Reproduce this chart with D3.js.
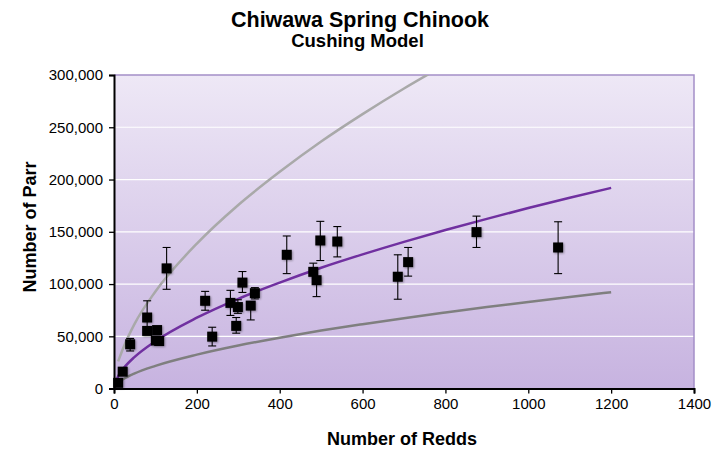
<!DOCTYPE html>
<html><head><meta charset="utf-8">
<script src="https://cdn.jsdelivr.net/npm/d3@7"></script>
<style>
body{margin:0;background:#fff;}
text{font-family:"Liberation Sans",Arial,sans-serif;}
</style></head>
<body><svg id="c" width="719" height="453"></svg>
<script>
const title = "Chiwawa Spring Chinook";
const subtitle = "Cushing Model";
const xLabel = "Number of Redds";
const yLabel = "Number of Parr";
const xTicks = [0,200,400,600,800,1000,1200,1400];
const yTicks = [0,50000,100000,150000,200000,250000,300000];

// observed points
const redds = [10,21,39,80,80,104,101,109,127,220,237,281,299,295,310,330,340,417,481,489,498,539,685,710,875,1072];
const parr  = [5500,16200,42400,68000,55200,56000,46000,45500,115000,84000,49700,82000,78000,60000,101400,79400,91300,128000,111700,103700,141700,140700,107000,121000,149700,135000];
const errHi = [null,null,48000,84000,null,null,null,null,135000,93000,58700,94000,85000,68000,112000,null,96600,146000,120000,null,160000,155000,128000,135000,165000,159600];
const errLo = [null,null,36000,55000,null,null,null,null,95000,75000,40800,70000,72000,53000,92000,65700,85800,110000,null,88000,122500,126000,85500,107600,135000,110000];

// model curves
const curveX   = [0,10,25,50,100,200,300,400,500,600,700,800,900,1000,1100,1200];
const midY     = [0,11900,20300,30400,45400,67800,85900,101400,115600,128400,140400,151700,162400,172700,182500,192000];
const lowY     = [0,5700,9700,14600,21800,32500,41200,48700,55500,61600,67400,72800,78000,82900,87600,92200];
const upX      = [10,25,50,100,200,300,400,500,600,700,800];
const upY      = [26000,41500,62200,92900,138700,175700,207400,236400,262600,287100,310000];

const svg = d3.select("#c");
const m = {l:114, r:694, t:75, b:388.6};
const x = d3.scaleLinear().domain([0,1400]).range([m.l,m.r]);
const y = d3.scaleLinear().domain([0,300000]).range([m.b,m.t]);

const defs = svg.append("defs");
const g = defs.append("linearGradient").attr("id","bg").attr("x1",0).attr("y1",0).attr("x2",0).attr("y2",1);
g.append("stop").attr("offset","0%").attr("stop-color","#eee8f6");
g.append("stop").attr("offset","100%").attr("stop-color","#c7b3e0");
defs.append("clipPath").attr("id","clip").append("rect")
  .attr("x",m.l).attr("y",m.t).attr("width",m.r-m.l).attr("height",m.b-m.t);
const f = defs.append("filter").attr("id","sh").attr("x","-50%").attr("y","-50%").attr("width","200%").attr("height","200%");
f.append("feGaussianBlur").attr("in","SourceAlpha").attr("stdDeviation",1);
f.append("feOffset").attr("dx",1).attr("dy",1).attr("result","o");
f.append("feComponentTransfer").append("feFuncA").attr("type","linear").attr("slope",0.35);
const fm = f.append("feMerge"); fm.append("feMergeNode"); fm.append("feMergeNode").attr("in","SourceGraphic");

svg.append("rect").attr("x",m.l).attr("y",m.t).attr("width",m.r-m.l).attr("height",m.b-m.t)
  .attr("fill","url(#bg)");
// gridlines
svg.append("g").selectAll("line").data(yTicks.slice(1,-1)).join("line")
  .attr("x1",m.l).attr("x2",m.r).attr("y1",d=>y(d)).attr("y2",d=>y(d))
  .attr("stroke","#ffffff").attr("stroke-width",1.2);
// plot border top/right
svg.append("path").attr("d",`M${m.l},${m.t}H${m.r}V${m.b}`).attr("fill","none")
  .attr("stroke","#a48ec8").attr("stroke-width",1.5);

const line = d3.line().x(d=>x(d[0])).y(d=>y(d[1])).curve(d3.curveMonotoneX);
const cg = svg.append("g").attr("clip-path","url(#clip)");
cg.append("path").datum(upX.map((v,i)=>[v,upY[i]])).attr("d",line)
  .attr("fill","none").attr("stroke","#a9a9a9").attr("stroke-width",2.5);
cg.append("path").datum(curveX.map((v,i)=>[v,lowY[i]])).attr("d",line)
  .attr("fill","none").attr("stroke","#7f7f7f").attr("stroke-width",2.5);
cg.append("path").datum(curveX.map((v,i)=>[v,midY[i]])).attr("d",line)
  .attr("fill","none").attr("stroke","#7030a0").attr("stroke-width",2.5);

// error bars
const pts = redds.map((r,i)=>({x:r,y:parr[i],hi:errHi[i],lo:errLo[i]}));
const eb = svg.append("g").attr("stroke","#000").attr("stroke-width",1.1);
pts.forEach(p=>{
  const hi = p.hi==null?p.y:p.hi, lo = p.lo==null?p.y:p.lo;
  if(hi===lo) return;
  eb.append("line").attr("x1",x(p.x)).attr("x2",x(p.x)).attr("y1",y(hi)).attr("y2",y(lo));
  if(p.hi!=null) eb.append("line").attr("x1",x(p.x)-4).attr("x2",x(p.x)+4).attr("y1",y(hi)).attr("y2",y(hi));
  if(p.lo!=null) eb.append("line").attr("x1",x(p.x)-4).attr("x2",x(p.x)+4).attr("y1",y(lo)).attr("y2",y(lo));
});
svg.append("g").attr("filter","url(#sh)").selectAll("rect").data(pts).join("rect")
  .attr("x",d=>x(d.x)-5).attr("y",d=>y(d.y)-5).attr("width",10).attr("height",10).attr("fill","#000");

// axes
const fmt = d3.format(",");
const xa = svg.append("g").attr("transform",`translate(0,${m.b})`)
  .call(d3.axisBottom(x).tickValues(xTicks).tickSize(5).tickFormat(d3.format("d")));
const ya = svg.append("g").attr("transform",`translate(${m.l},0)`)
  .call(d3.axisLeft(y).tickValues(yTicks).tickSize(5).tickFormat(fmt));
[xa,ya].forEach(a=>{
  a.select(".domain").attr("stroke","#000").attr("stroke-width",2);
  a.selectAll(".tick line").attr("stroke","#000").attr("stroke-width",1.3);
  a.selectAll("text").attr("font-size",15).attr("fill","#000")
   .style("font-family","'Liberation Sans',Arial,sans-serif");
});
xa.selectAll("text").attr("dy","0.71em").attr("y",10);
ya.selectAll("text").attr("x",-11);

svg.append("text").attr("x",360).attr("y",26.5).attr("text-anchor","middle")
  .attr("font-size",21.5).attr("font-weight","bold").text(title);
svg.append("text").attr("x",357.5).attr("y",46.5).attr("text-anchor","middle")
  .attr("font-size",18.5).attr("font-weight","bold").text(subtitle);
svg.append("text").attr("x",402).attr("y",445).attr("text-anchor","middle")
  .attr("font-size",18).attr("font-weight","bold").text(xLabel);
svg.append("text").attr("transform","translate(36,227) rotate(-90)").attr("text-anchor","middle")
  .attr("font-size",18).attr("font-weight","bold").text(yLabel);
</script></body></html>
